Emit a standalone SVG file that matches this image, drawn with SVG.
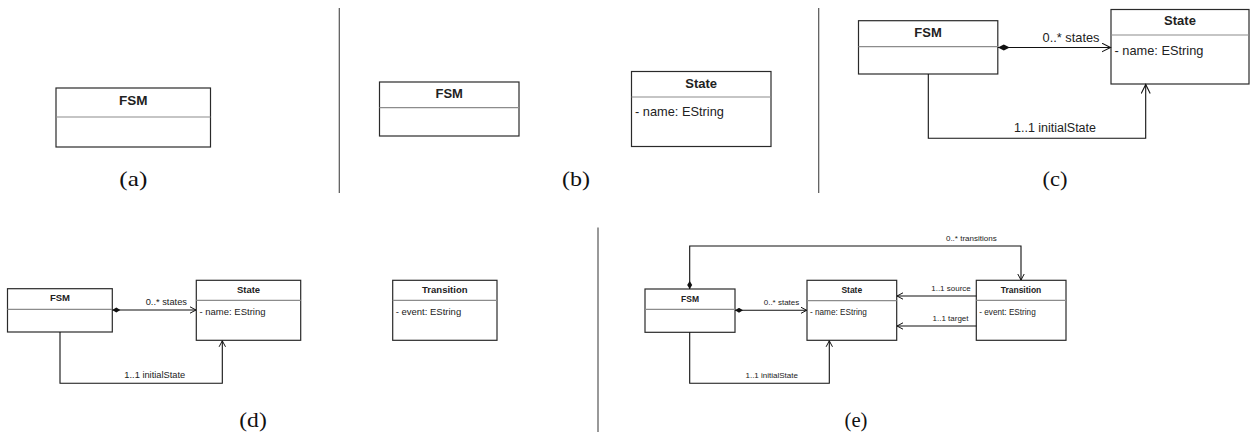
<svg xmlns="http://www.w3.org/2000/svg" width="1250" height="432" viewBox="0 0 1250 432">
<style>
.box{fill:#fff;stroke:#2a2a2a;stroke-width:1.2}
.div{stroke:#8c8c8c;stroke-width:1.2}
.t{font-family:"Liberation Sans",Arial,sans-serif;fill:#222}
.b{font-weight:bold;text-anchor:middle}
.m{text-anchor:middle}
.cap{font-family:"Liberation Serif","Times New Roman",serif;font-size:21px;fill:#111;text-anchor:middle}
.sep{stroke:#555;stroke-width:1.2}
.c{fill:none;stroke:#111;stroke-width:1.1}
</style>
<defs>
<marker id="arrL" markerUnits="userSpaceOnUse" markerWidth="12" markerHeight="12" refX="9" refY="5" orient="auto" viewBox="0 0 12 12"><path d="M0,0.5 L9,5 L0,9.5" fill="none" stroke="#111" stroke-width="1.1"/></marker>
<marker id="arrS" markerUnits="userSpaceOnUse" markerWidth="10" markerHeight="10" refX="6" refY="4" orient="auto" viewBox="0 0 10 10"><path d="M0,0.8 L6,4 L0,7.2" fill="none" stroke="#111" stroke-width="1"/></marker>
<marker id="diaL" markerUnits="userSpaceOnUse" markerWidth="14" markerHeight="8" refX="0" refY="3.5" orient="auto" viewBox="0 0 14 8"><path d="M0,3.5 L6,0.5 L12,3.5 L6,6.5 Z" fill="#111"/></marker>
<marker id="diaS" markerUnits="userSpaceOnUse" markerWidth="10" markerHeight="6" refX="0" refY="2.75" orient="auto" viewBox="0 0 10 6"><path d="M0,2.75 L4,0.25 L8,2.75 L4,5.25 Z" fill="#111"/></marker>
</defs>

<g id="separators">
<line class="sep" x1="339.3" y1="8" x2="339.3" y2="193"/>
<line class="sep" x1="818.7" y1="8" x2="818.7" y2="193"/>
<line class="sep" x1="598" y1="227.5" x2="598" y2="432"/>
</g>

<g id="captions">
<text class="cap" x="133.3" y="186" textLength="28" lengthAdjust="spacingAndGlyphs">(a)</text>
<text class="cap" x="576" y="186" textLength="28" lengthAdjust="spacingAndGlyphs">(b)</text>
<text class="cap" x="1055" y="186" textLength="25" lengthAdjust="spacingAndGlyphs">(c)</text>
<text class="cap" x="253" y="427" textLength="27.5" lengthAdjust="spacingAndGlyphs">(d)</text>
<text class="cap" x="856" y="427" textLength="23" lengthAdjust="spacingAndGlyphs">(e)</text>
</g>

<!-- (a) -->
<g id="a-FSM">
<rect class="box" x="56" y="88" width="154.5" height="59"/>
<line class="div" x1="56" y1="117" x2="210.5" y2="117"/>
<text class="t b" x="133.3" y="105" font-size="13.5">FSM</text>
</g>

<!-- (b) -->
<g id="b-FSM">
<rect class="box" x="379.5" y="82" width="139.5" height="54"/>
<line class="div" x1="379.5" y1="107.7" x2="519" y2="107.7"/>
<text class="t b" x="449.2" y="98" font-size="13">FSM</text>
</g>
<g id="b-State">
<rect class="box" x="631.5" y="71.5" width="139.5" height="75"/>
<line class="div" x1="631.5" y1="97" x2="771" y2="97"/>
<text class="t b" x="701.2" y="87.5" font-size="13">State</text>
<text class="t" x="635" y="116" font-size="12.8">- name: EString</text>
</g>

<!-- (c) -->
<g id="c-FSM">
<rect class="box" x="858.5" y="20.7" width="139.3" height="53.3"/>
<line class="div" x1="858.5" y1="46.7" x2="997.8" y2="46.7"/>
<text class="t b" x="928" y="37.3" font-size="13">FSM</text>
</g>
<g id="c-State">
<rect class="box" x="1111" y="9.5" width="138" height="74.5"/>
<line class="div" x1="1111" y1="35" x2="1249" y2="35"/>
<text class="t b" x="1180" y="25" font-size="13">State</text>
<text class="t" x="1114.5" y="55" font-size="12.8">- name: EString</text>
</g>

<!-- (d) -->
<g id="d-FSM">
<rect class="box" x="7.5" y="288.7" width="104.8" height="43.3"/>
<line class="div" x1="7.5" y1="309.3" x2="112.3" y2="309.3"/>
<text class="t b" x="60" y="300.7" font-size="9.5">FSM</text>
</g>
<g id="d-State">
<rect class="box" x="196.3" y="280.3" width="104.4" height="60"/>
<line class="div" x1="196.3" y1="300.3" x2="300.7" y2="300.3"/>
<text class="t b" x="248.5" y="292.7" font-size="9.5">State</text>
<text class="t" x="199.5" y="315" font-size="9.5">- name: EString</text>
</g>
<g id="d-Transition">
<rect class="box" x="392.7" y="280.3" width="104.3" height="60"/>
<line class="div" x1="392.7" y1="300.3" x2="497" y2="300.3"/>
<text class="t b" x="444.8" y="292.7" font-size="9.5">Transition</text>
<text class="t" x="395.7" y="315" font-size="9.5">- event: EString</text>
</g>

<!-- (e) -->
<g id="e-FSM">
<rect class="box" x="645" y="289" width="90" height="43.3"/>
<line class="div" x1="645" y1="309.3" x2="735" y2="309.3"/>
<text class="t b" x="690" y="301.5" font-size="8.5">FSM</text>
</g>
<g id="e-State">
<rect class="box" x="807" y="280.3" width="89.7" height="60"/>
<line class="div" x1="807" y1="300.7" x2="896.7" y2="300.7"/>
<text class="t b" x="851.8" y="292.7" font-size="8.5">State</text>
<text class="t" x="810" y="315" font-size="8.2">- name: EString</text>
</g>
<g id="e-Transition">
<rect class="box" x="976.3" y="280.3" width="89.7" height="60"/>
<line class="div" x1="976.3" y1="300.3" x2="1066" y2="300.3"/>
<text class="t b" x="1021" y="292.7" font-size="8.5">Transition</text>
<text class="t" x="979.3" y="315" font-size="8.2">- event: EString</text>
</g>

<g id="connectors">
<!-- (c) -->
<path class="c" d="M997.8,47.5 H1110.5" marker-start="url(#diaL)" marker-end="url(#arrL)"/>
<text class="t m" x="1071" y="41.7" font-size="12.8">0..* states</text>
<path class="c" d="M928.3,74 V138.3 H1145.7 V84.5" marker-end="url(#arrL)"/>
<text class="t m" x="1055" y="131.7" font-size="12.5">1..1 initialState</text>
<!-- (d) -->
<path class="c" d="M112.3,310 H196" marker-start="url(#diaS)" marker-end="url(#arrS)"/>
<text class="t m" x="166.3" y="305" font-size="9.3">0..* states</text>
<path class="c" d="M60,332 V383.3 H222.3 V340.8" marker-end="url(#arrS)"/>
<text class="t m" x="154.8" y="378" font-size="9.3">1..1 initialState</text>
<!-- (e) -->
<path class="c" d="M735,310.3 H806.7" marker-start="url(#diaS)" marker-end="url(#arrS)"/>
<text class="t m" x="781.5" y="305" font-size="8">0..* states</text>
<path class="c" d="M689.7,332.3 V383.3 H829.3 V340.8" marker-end="url(#arrS)"/>
<text class="t m" x="771.7" y="378.3" font-size="8">1..1 initialState</text>
<path class="c" d="M689.7,289 V246 H1021 V280" marker-start="url(#diaS)" marker-end="url(#arrS)"/>
<text class="t m" x="971.3" y="240.7" font-size="8">0..* transitions</text>
<path class="c" d="M976.3,296 H897" marker-end="url(#arrS)"/>
<text class="t m" x="951" y="290.7" font-size="8">1..1 source</text>
<path class="c" d="M976.3,326 H897" marker-end="url(#arrS)"/>
<text class="t m" x="950.5" y="320.7" font-size="8">1..1 target</text>
</g>
</svg>
